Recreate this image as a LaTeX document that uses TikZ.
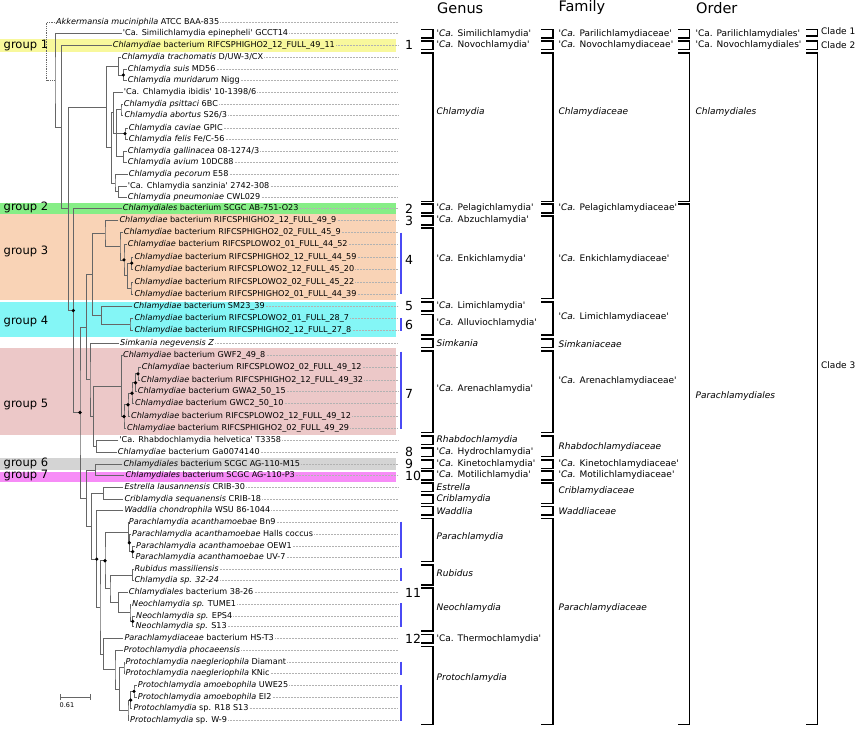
\documentclass[tikz,border=0pt]{standalone}
\usepackage{fontspec}
\setmainfont{DejaVu Sans}
\usetikzlibrary{calc}

\definecolor{grpyellow}{HTML}{F8F89C}
\definecolor{grpgreen}{HTML}{86EE86}
\definecolor{grppeach}{HTML}{F9D3B6}
\definecolor{grpcyan}{HTML}{84F6F6}
\definecolor{grppink}{HTML}{ECC8C8}
\definecolor{grpgray}{HTML}{D4D4D4}
\definecolor{grpmagenta}{HTML}{F78CF7}
\definecolor{barblue}{HTML}{4A4AF4}

\newcommand\sq{\textquotesingle}
% clade: name, x, upper child, lower child
\newcommand\clade[5][branch]{%
  \path ($(#4)!.5!(#5)$) coordinate (#2-m);
  \coordinate (#2) at (#3,0 |- #2-m);
  \draw[#1] (#4) -| (#2) |- (#5);}
\newcommand\boot[1]{\fill (#1) circle (1.8pt);}
% rank bracket: column x, top y, bottom y
\newcommand\rank[3]{\draw[rankbr] (#1-11,#2) -- (#1,#2) -- (#1,#3) -- (#1-11,#3);}

\begin{document}
\begin{tikzpicture}[x=1pt,y=-1pt,
  leaf/.style={anchor=west, inner xsep=1pt, inner ysep=0pt, text height=6.2pt, text depth=1.9pt,
    font=\fontsize{8.1}{10}\selectfont},
  branch/.style={draw=black!60, line width=0.8pt},
  root/.style={draw=black!60, line width=0.8pt, densely dotted},
  leader/.style={draw=black!30, densely dotted, line width=0.5pt},
  rankbr/.style={line width=1.6pt, line cap=rect},
  ranklab/.style={anchor=west, inner sep=0pt, font=\fontsize{9}{10}\selectfont},
  head/.style={anchor=west, inner sep=0pt, font=\fontsize{14.5}{16}\selectfont},
  grp/.style={anchor=west, inner sep=0pt, font=\fontsize{11.5}{13}\selectfont},
  num/.style={anchor=west, inner sep=0pt, font=\fontsize{12.5}{14}\selectfont},
  bluebar/.style={draw=barblue, line width=2pt}]
\useasboundingbox (0,0) rectangle (858,730);

% group bands
\fill[grpyellow] (0,39.3) rectangle (396,52.3);
\fill[grpgreen] (0,202.5) rectangle (396,214.3);
\fill[grppeach] (0,214.3) rectangle (396,300);
\fill[grpcyan] (0,301.7) rectangle (396,337.3);
\fill[grppink] (0,348.3) rectangle (396,435);
\fill[grpgray] (0,458.3) rectangle (396,470.3);
\fill[grpmagenta] (0,471.7) rectangle (396,481.7);
\node[grp] (g1) at (3.5,45.3) {group 1};
\node[grp] (g2) at (3.5,207.7) {group 2};
\node[grp] (g3) at (3.5,251.7) {group 3};
\node[grp] (g4) at (3.5,321.7) {group 4};
\node[grp] (g5) at (3.5,404.3) {group 5};
\node[grp] (g6) at (3.5,463.3) {group 6};
\node[grp] (g7) at (3.5,475) {group 7};

% leaves
\coordinate (dotend) at (398,0);
\foreach \n/\x/\y/\t in {
  1/55/22/{\textit{Akkermansia muciniphila} ATCC BAA-835},
  2/121.7/33.7/{\sq Ca. Similichlamydia epinepheli\sq{} GCCT14},
  3/111.7/45.3/{\textit{Chlamydiae} bacterium RIFCSPHIGHO2\_12\_FULL\_49\_11},
  4/120.7/57.3/{\textit{Chlamydia trachomatis} D/UW-3/CX},
  5/126.7/69.3/{\textit{Chlamydia suis} MD56},
  6/126.7/80.7/{\textit{Chlamydia muridarum} Nigg},
  7/122.7/92.3/{\sq Ca. Chlamydia ibidis\sq{} 10-1398/6},
  8/122.7/104/{\textit{Chlamydia psittaci} 6BC},
  9/123.3/115.7/{\textit{Chlamydia abortus} S26/3},
  10/127.7/128/{\textit{Chlamydia caviae} GPIC},
  11/127.7/139.3/{\textit{Chlamydia felis} Fe/C-56},
  12/126.7/151/{\textit{Chlamydia gallinacea} 08-1274/3},
  13/126.7/162.7/{\textit{Chlamydia avium} 10DC88},
  14/127.7/174.3/{\textit{Chlamydia pecorum} E58},
  15/126.7/186/{\sq Ca. Chlamydia sanzinia\sq{} 2742-308},
  16/126.7/197/{\textit{Chlamydia pneumoniae} CWL029},
  17/121.7/208.5/{\textit{Chlamydiales} bacterium SCGC AB-751-O23},
  18/118.3/220.5/{\textit{Chlamydiae} bacterium RIFCSPHIGHO2\_12\_FULL\_49\_9},
  19/122.7/232.3/{\textit{Chlamydiae} bacterium RIFCSPHIGHO2\_02\_FULL\_45\_9},
  20/126.7/244.3/{\textit{Chlamydiae} bacterium RIFCSPLOWO2\_01\_FULL\_44\_52},
  21/133.3/257/{\textit{Chlamydiae} bacterium RIFCSPHIGHO2\_12\_FULL\_44\_59},
  22/133.3/269.3/{\textit{Chlamydiae} bacterium RIFCSPLOWO2\_12\_FULL\_45\_20},
  23/133.3/282/{\textit{Chlamydiae} bacterium RIFCSPLOWO2\_02\_FULL\_45\_22},
  24/133.3/294/{\textit{Chlamydiae} bacterium RIFCSPHIGHO2\_01\_FULL\_44\_39},
  25/132.3/306.5/{\textit{Chlamydiae} bacterium SM23\_39},
  26/133.3/318.7/{\textit{Chlamydiae} bacterium RIFCSPLOWO2\_01\_FULL\_28\_7},
  27/133.3/330.7/{\textit{Chlamydiae} bacterium RIFCSPHIGHO2\_12\_FULL\_27\_8},
  28/119/343.3/{\textit{Simkania negevensis Z}},
  29/122/355.3/{\textit{Chlamydiae} bacterium GWF2\_49\_8},
  30/140.7/367.3/{\textit{Chlamydiae} bacterium RIFCSPLOWO2\_02\_FULL\_49\_12},
  31/140/380.3/{\textit{Chlamydiae} bacterium RIFCSPHIGHO2\_12\_FULL\_49\_32},
  32/136.7/391.7/{\textit{Chlamydiae} bacterium GWA2\_50\_15},
  33/134/403.7/{\textit{Chlamydiae} bacterium GWC2\_50\_10},
  34/130/416.3/{\textit{Chlamydiae} bacterium RIFCSPLOWO2\_12\_FULL\_49\_12},
  35/126/428.3/{\textit{Chlamydiae} bacterium RIFCSPHIGHO2\_02\_FULL\_49\_29},
  36/118.3/440.3/{\sq Ca. Rhabdochlamydia helvetica\sq{} T3358},
  37/116.7/452.3/{\textit{Chlamydiae} bacterium Ga0074140},
  38/122.3/464.3/{\textit{Chlamydiales} bacterium SCGC AG-110-M15},
  39/124.3/475.5/{\textit{Chlamydiales} bacterium SCGC AG-110-P3},
  40/123.3/487/{\textit{Estrella lausannensis} CRIB-30},
  41/123.3/499/{\textit{Criblamydia sequanensis} CRIB-18},
  42/123.3/510.7/{\textit{Waddlia chondrophila} WSU 86-1044},
  43/127.7/522.7/{\textit{Parachlamydia acanthamoebae} Bn9},
  44/131/534/{\textit{Parachlamydia acanthamoebae} Halls coccus},
  45/135/546/{\textit{Parachlamydia acanthamoebae} OEW1},
  46/134.3/557.3/{\textit{Parachlamydia acanthamoebae} UV-7},
  47/133.3/569.3/{\textit{Rubidus massiliensis}},
  48/133.3/580.7/{\textit{Chlamydia sp. 32-24}},
  49/127.7/592.3/{\textit{Chlamydiales} bacterium 38-26},
  50/131/604.3/{\textit{Neochlamydia sp.} TUME1},
  51/135/616/{\textit{Neochlamydia sp.} EPS4},
  52/134.3/626.7/{\textit{Neochlamydia sp.} S13},
  53/123.3/638.7/{\textit{Parachlamydiaceae} bacterium HS-T3},
  54/122.7/650.7/{\textit{Protochlamydia phocaeensis}},
  55/124.3/662.3/{\textit{Protochlamydia naegleriophila} Diamant},
  56/124.3/673.3/{\textit{Protochlamydia naegleriophila} KNic},
  57/136.7/685.3/{\textit{Protochlamydia amoebophila} UWE25},
  58/136.7/697.3/{\textit{Protochlamydia amoebophila} EI2},
  59/132.3/708.7/{\textit{Protochlamydia} sp. R18 S13},
  60/129/720/{\textit{Protochlamydia} sp. W-9}}{
  \coordinate (t\n) at (\x,\y);
  \node[leaf] (l\n) at (t\n) {\t};
  \draw[leader] (l\n.east) -- (l\n.east -| dotend);
}

% Chlamydiaceae
\clade{chA}{123.3}{t5}{t6}
\clade{chB}{118.3}{t4}{chA}
\clade{chC}{121}{t8}{t9}
\clade{chD}{125}{t10}{t11}
\clade{chF}{123.5}{t12}{t13}
\clade{chG}{116.7}{chC}{chF}
\draw[branch] (chD) -- (chD -| chG);
\clade{chH}{113.3}{t7}{chG}
\clade{chI}{118.3}{t15}{t16}
\clade{chJ}{115}{t14}{chI}
\clade{chK}{111.7}{chH}{chJ}
\clade{chl}{106.7}{chB}{chK}
% group 3 and 4
\clade{enA}{131.7}{t21}{t22}
\clade{enB}{131}{t23}{t24}
\clade{enC}{127.5}{enA}{enB}
\clade{enD}{124}{t20}{enC}
\clade{enE}{120}{t19}{enD}
\clade{enF}{105}{t18}{enE}
\clade{liA}{130}{t26}{t27}
\clade{liB}{101.7}{t25}{liA}
\clade{enli}{92.5}{enF}{liB}
% group 5, Rhabdochlamydia and Simkania
\clade{arA}{138}{t30}{t31}
\clade{arB}{135.5}{arA}{t32}
\clade{arC}{132}{arB}{t33}
\clade{arD}{128}{arC}{t34}
\clade{arE}{124}{arD}{t35}
\clade{arF}{121.7}{t29}{arE}
\clade{rhA}{96.7}{t36}{t37}
\clade{arrh}{93.3}{arF}{rhA}
\clade{siar}{90}{t28}{arrh}
\clade{upA}{86.7}{enli}{siar}
% groups 6, 7 and the rest
\clade{kmA}{95.5}{t38}{t39}
\clade{crA}{103.3}{t40}{t41}
\clade{paA}{132.7}{t45}{t46}
\clade{paB}{129.3}{t44}{paA}
\clade{paC}{128.3}{t43}{paB}
\clade{ruA}{132.7}{t47}{t48}
\clade{neA}{132.7}{t51}{t52}
\clade{neB}{130}{t50}{neA}
\clade{neC}{118.3}{t49}{neB}
\clade{rune}{110}{ruA}{neC}
\clade{parune}{105}{paC}{rune}
\clade{prA}{124}{t55}{t56}
\clade{prB}{134}{t57}{t58}
\clade{prC}{130.7}{prB}{t59}
\clade{prD}{128}{prC}{t60}
\clade{prE}{119.3}{prA}{prD}
\clade{prF}{115}{t54}{prE}
\clade{prG}{103.3}{t53}{prF}
\clade{pcA}{100}{parune}{prG}
\clade{waA}{96.7}{t42}{pcA}
\clade{crwa}{91.7}{crA}{waA}
\clade{lowA}{86.7}{kmA}{crwa}
% backbone
\clade{bbE}{80}{upA}{lowA}
\clade{bbD}{73.3}{t17}{bbE}
\clade{bbC}{68.3}{chl}{bbD}
\clade{bbB}{61.7}{t3}{bbC}
\clade{bbA}{55}{t2}{bbB}
\clade[root]{bb0}{46.7}{t1}{bbA}
\foreach \b in {chA,chD,enA,enD,arA,arB,arC,arD,arE,paA,paB,neA,prB,prC,parune,waA,bbD,bbE}{
  \boot{\b}
}

% scale bar
\draw[branch] (60,694.3) -- (60,700.3) (60,697.3) -- (90.7,697.3) (90.7,694.3) -- (90.7,700.3);
\node[anchor=north west, inner sep=0pt, font=\fontsize{6.5}{7}\selectfont] (scale) at (59.5,702) {0.61};

% blue bars and numbers
\foreach \a/\b in {232.5/293.5, 318/331, 351.5/428.5, 521.5/557.5, 568/581, 603/627, 661.5/674.5, 685/720.5}{
  \draw[bluebar] (400.5,\a) -- (400.5,\b);
}
\foreach \y/\t in {45.3/1, 208.5/2, 220.5/3, 260/4, 306.5/5, 325/6, 394.3/7, 452.3/8, 464.3/9, 476/10, 593.3/11, 639.3/12}{
  \node[num] at (405,\y) {\t};
}

% headers
\node[head] (hgenus) at (437,8) {Genus};
\node[head] (hfamily) at (558.3,8) {Family};
\node[head] (horder) at (696,8) {Order};

% genus
\foreach \a/\b in {29.4/38, 41/49.6, 53/201.3, 204.2/212.8, 216.2/224.8, 228/298.3, 302.2/310.8,
  314.4/335, 339/347.6, 351/432.6, 436/444.6, 448/456.6, 460/468.6, 471.2/479.8, 482.7/491.3,
  494.7/503.3, 506.4/515, 518.4/561.6, 565/585, 588/631, 634.4/643, 646.4/724.3}{
  \rank{432.7}{\a}{\b}
}
\foreach \y/\t in {33.7/{\sq\textit{Ca.} Similichlamydia\sq}, 45.3/{\sq\textit{Ca.} Novochlamydia\sq},
  112.3/{\textit{Chlamydia}}, 208.5/{\sq\textit{Ca.} Pelagichlamydia\sq}, 220.5/{\sq\textit{Ca.} Abzuchlamydia\sq},
  259.3/{\sq\textit{Ca.} Enkichlamydia\sq}, 306.5/{\sq\textit{Ca.} Limichlamydia\sq},
  322.7/{\sq\textit{Ca.} Alluviochlamydia\sq}, 343.3/{\textit{Simkania}}, 389.3/{\sq\textit{Ca.} Arenachlamydia\sq},
  440.3/{\textit{Rhabdochlamydia}}, 452.3/{\sq\textit{Ca.} Hydrochlamydia\sq}, 464.3/{\sq\textit{Ca.} Kinetochlamydia\sq},
  475.5/{\sq\textit{Ca.} Motilichlamydia\sq}, 487/{\textit{Estrella}}, 499/{\textit{Criblamydia}},
  510.7/{\textit{Waddlia}}, 537.3/{\textit{Parachlamydia}}, 572.7/{\textit{Rubidus}},
  607.7/{\textit{Neochlamydia}}, 638.7/{\sq Ca. Thermochlamydia\sq}, 677.7/{\textit{Protochlamydia}}}{
  \node[ranklab] at (436.5,\y) {\t};
}

% family
\foreach \a/\b in {29.4/38, 41/49.6, 53/201.3, 204.2/212.8, 216.2/298.3, 302.2/335, 339/347.6,
  351/432.6, 436/456.6, 460/468.6, 471.2/479.8, 482.7/503.3, 506.4/515, 518.4/724.3}{
  \rank{552.7}{\a}{\b}
}
\foreach \y/\t in {33.7/{\sq\textit{Ca.} Parilichlamydiaceae\sq}, 45.3/{\sq\textit{Ca.} Novochlamydiaceae\sq},
  112.3/{\textit{Chlamydiaceae}}, 208.5/{\sq\textit{Ca.} Pelagichlamydiaceae\sq},
  259.3/{\sq\textit{Ca.} Enkichlamydiaceae\sq}, 316.7/{\sq\textit{Ca.} Limichlamydiaceae\sq},
  344/{\textit{Simkaniaceae}}, 380.7/{\sq\textit{Ca.} Arenachlamydiaceae\sq},
  447.3/{\textit{Rhabdochlamydiaceae}}, 464.3/{\sq\textit{Ca.} Kinetochlamydiaceae\sq},
  475.5/{\sq\textit{Ca.} Motilichlamydiaceae\sq}, 491/{\textit{Criblamydiaceae}},
  510.7/{\textit{Waddliaceae}}, 607.7/{\textit{Parachlamydiaceae}}}{
  \node[ranklab] at (558.5,\y) {\t};
}

% order
\foreach \a/\b in {29.4/38, 41/49.6, 53/201.3, 204.2/724.3}{
  \rank{689.3}{\a}{\b}
}
\node[ranklab] (oA) at (695.5,33.7) {\sq Ca. Parilichlamydiales\sq};
\node[ranklab] (oB) at (695.5,45.3) {\sq Ca. Novochlamydiales\sq};
\node[ranklab] (oC) at (695.5,112.3) {\textit{Chlamydiales}};
\node[ranklab] (oD) at (695.5,396) {\textit{Parachlamydiales}};

% clade
\foreach \a/\b in {29.4/36, 41/49.6, 53/724.3}{
  \rank{817.3}{\a}{\b}
}
\node[ranklab] (cA) at (821,31.5) {Clade 1};
\node[ranklab] (cB) at (821,45.3) {Clade 2};
\node[ranklab] (cC) at (821,365) {Clade 3};
\end{tikzpicture}
\end{document}
